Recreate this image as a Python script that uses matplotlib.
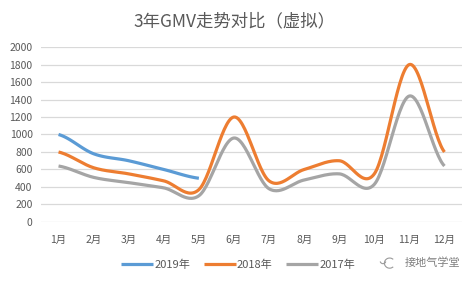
"""
3年GMV走势对比（虚拟）- 平滑折线图
"""
import numpy as np
import matplotlib
matplotlib.use('Agg')
import matplotlib.pyplot as plt
from matplotlib.patches import Arc

plt.rcParams['font.family'] = ['Noto Sans CJK SC', 'DejaVu Sans']

months = ['1月', '2月', '3月', '4月', '5月', '6月', '7月', '8月', '9月', '10月', '11月', '12月']
gmv_2019 = [1000, 780, 700, 600, 500]
gmv_2018 = [800, 620, 550, 470, 370, 1200, 470, 600, 700, 550, 1800, 800]
gmv_2017 = [640, 510, 450, 390, 300, 960, 380, 480, 550, 430, 1440, 640]
y_ticks = list(range(0, 2001, 200))


def smooth(values, n=30):
    """类似 Excel 平滑线: Catmull-Rom 曲线"""
    y = np.asarray(values, dtype=float)
    x = np.arange(len(y), dtype=float)
    xs, ys = [], []
    for i in range(len(y) - 1):
        y0 = y[i - 1] if i > 0 else y[i]
        y3 = y[i + 2] if i + 2 < len(y) else y[i + 1]
        c1 = y[i] + (y[i + 1] - y0) / 6
        c2 = y[i + 1] - (y3 - y[i]) / 6
        t = np.linspace(0, 1, n)
        b = ((1 - t) ** 3 * y[i] + 3 * (1 - t) ** 2 * t * c1
             + 3 * (1 - t) * t ** 2 * c2 + t ** 3 * y[i + 1])
        xs.append(x[i] + t)
        ys.append(b)
    return np.concatenate(xs), np.concatenate(ys)


fig = plt.figure(figsize=(4.74, 2.82), dpi=100)
ax = fig.add_axes([0.0865, 0.2128, 0.8882, 0.6205])

series = [('2019年', gmv_2019, '#5B9BD5'),
          ('2018年', gmv_2018, '#ED7D31'),
          ('2017年', gmv_2017, '#A5A5A5')]
for name, vals, color in series:
    sx, sy = smooth(vals)
    ax.plot(sx, sy, color=color, lw=2.3, label=name, solid_capstyle='butt')

ax.set_xlim(-0.5, len(months) - 0.5)
ax.set_ylim(0, 2000)
ax.set_yticks(y_ticks)
ax.set_xticks(range(len(months)))
ax.set_xticklabels(months)
ax.tick_params(length=0, labelsize=7.5, labelcolor='#595959')
ax.tick_params(axis='x', pad=9)
ax.tick_params(axis='y', pad=6)
ax.grid(axis='y', color='#D9D9D9', lw=0.9)
ax.set_axisbelow(True)
for s in ax.spines.values():
    s.set_visible(False)

fig.text(0.494, 0.925, '3年GMV走势对比（虚拟）', ha='center', va='center',
         fontsize=12.5, color='#595959')

ax.legend(loc='center', bbox_to_anchor=(0.468, -0.245), ncol=3, frameon=False,
          fontsize=8, labelcolor='#595959', handlelength=2.9,
          handletextpad=0.1, columnspacing=1.2)

# 水印
fig.text(0.972, 0.067, '接地气学堂', ha='right', va='center',
         fontsize=8, color='#7F7F7F')
fig.add_artist(Arc((0.822, 0.067), 0.022, 0.036, theta1=60, theta2=300,
                   transform=fig.transFigure, color='#9A9A9A', lw=0.8))
fig.add_artist(Arc((0.808, 0.075), 0.012, 0.02, theta1=200, theta2=340,
                   transform=fig.transFigure, color='#9A9A9A', lw=0.8))

plt.savefig('out.png', dpi=100)
